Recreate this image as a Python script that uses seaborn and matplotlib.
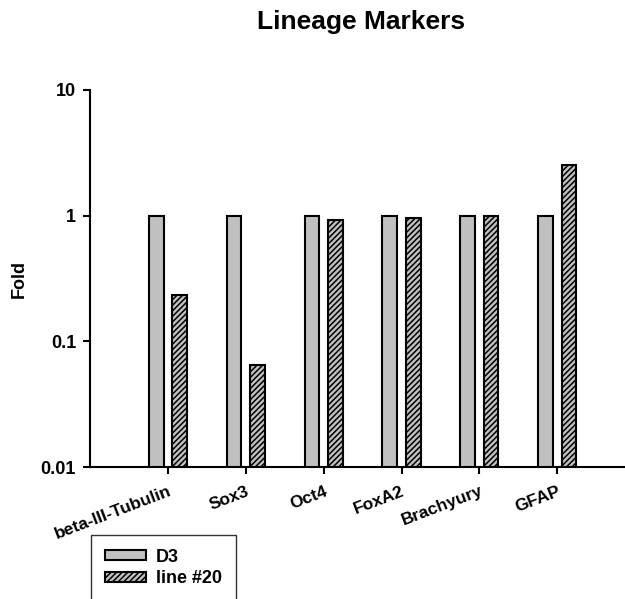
import matplotlib
matplotlib.use("Agg")
import matplotlib.pyplot as plt
from matplotlib.patches import Patch
import seaborn as sns
import pandas as pd

categories = ["beta-III-Tubulin", "Sox3", "Oct4", "FoxA2", "Brachyury", "GFAP"]
d3_values = [1.0, 1.0, 1.0, 1.0, 1.0, 1.0]
line20_values = [0.232, 0.065, 0.92, 0.95, 1.0, 2.55]
series_names = ["D3", "line #20"]
y_ticks = [0.01, 0.1, 1, 10]
y_tick_labels = ["0.01", "0.1", "1", "10"]

sns.set_theme(style="ticks")
plt.rcParams['font.family'] = ['Liberation Sans', 'DejaVu Sans']
plt.rcParams['font.weight'] = 'bold'
plt.rcParams['text.color'] = 'black'
plt.rcParams['axes.labelcolor'] = 'black'
plt.rcParams['xtick.color'] = 'black'
plt.rcParams['ytick.color'] = 'black'
plt.rcParams['hatch.linewidth'] = 1.1

df = pd.DataFrame({
    "Marker": categories * 2,
    "Fold": d3_values + line20_values,
    "Series": [series_names[0]] * len(categories) + [series_names[1]] * len(categories),
})

fig = plt.figure(figsize=(6.25, 5.99), dpi=100)
ax_w = 1.0 - 90/625 + 0.01
ax = fig.add_axes([90/625, 1 - 467/599, ax_w, (467 - 90)/599])

sns.barplot(data=df, x="Marker", y="Fold", hue="Series", order=categories,
            hue_order=series_names, palette=["#c0c0c0", "#c8c8c8"],
            width=0.6, gap=0.37, edgecolor="black", linewidth=1.5,
            legend=False, ax=ax, err_kws={'linewidth': 0})
ax.set_yscale("log")

n = len(categories)
for i, p in enumerate(ax.patches):
    if i >= n:
        p.set_hatch("//////")
        p.set_facecolor("#c0c0c0")

ax.set_ylim(0.01, 10)
ax.set_xlim(-1.0, 5.95)
ax.set_yticks(y_ticks)
ax.set_yticklabels(y_tick_labels)
ax.minorticks_off()
ax.tick_params(axis='both', direction='out', length=5, width=1.5, labelsize=13,
               color='black', labelcolor='black')
ax.tick_params(axis='x', pad=7)
ax.tick_params(axis='y', pad=5)
for lab in ax.get_yticklabels():
    lab.set_fontweight('bold')
ax.set_xticks(range(n))
ax.set_xticklabels(categories, rotation=21, ha='right', rotation_mode='anchor',
                   fontweight='bold', fontsize=12.5)
for s in ["top", "right"]:
    ax.spines[s].set_visible(False)
for s in ["left", "bottom"]:
    ax.spines[s].set_linewidth(1.5)
    ax.spines[s].set_color("black")
ax.set_xlabel("")
ax.set_ylabel("Fold", fontsize=13, fontweight='bold')
ax.yaxis.set_label_coords((28 - 90) / (ax_w * 625), 0.5)

fig.text(361/625, 1 - 22/599, "Lineage Markers", ha='center', va='center',
         fontsize=19, fontweight='bold', color='black')

handles = [Patch(facecolor="#c0c0c0", edgecolor="black", linewidth=1.5, label=series_names[0]),
           Patch(facecolor="#c0c0c0", edgecolor="black", linewidth=1.5, hatch="//////", label=series_names[1])]
leg = fig.legend(handles=handles, loc='upper left', bbox_to_anchor=(91/625, 1 - 535/599),
                 frameon=True, fancybox=False, edgecolor='black',
                 handlelength=2.3, handleheight=0.5, handletextpad=0.55,
                 borderpad=0.75, labelspacing=0.25,
                 borderaxespad=0, prop={'weight': 'bold', 'size': 13})
leg.get_frame().set_linewidth(1.0)
for t in leg.get_texts():
    t.set_color('black')

fig.savefig("out.png", dpi=100)
